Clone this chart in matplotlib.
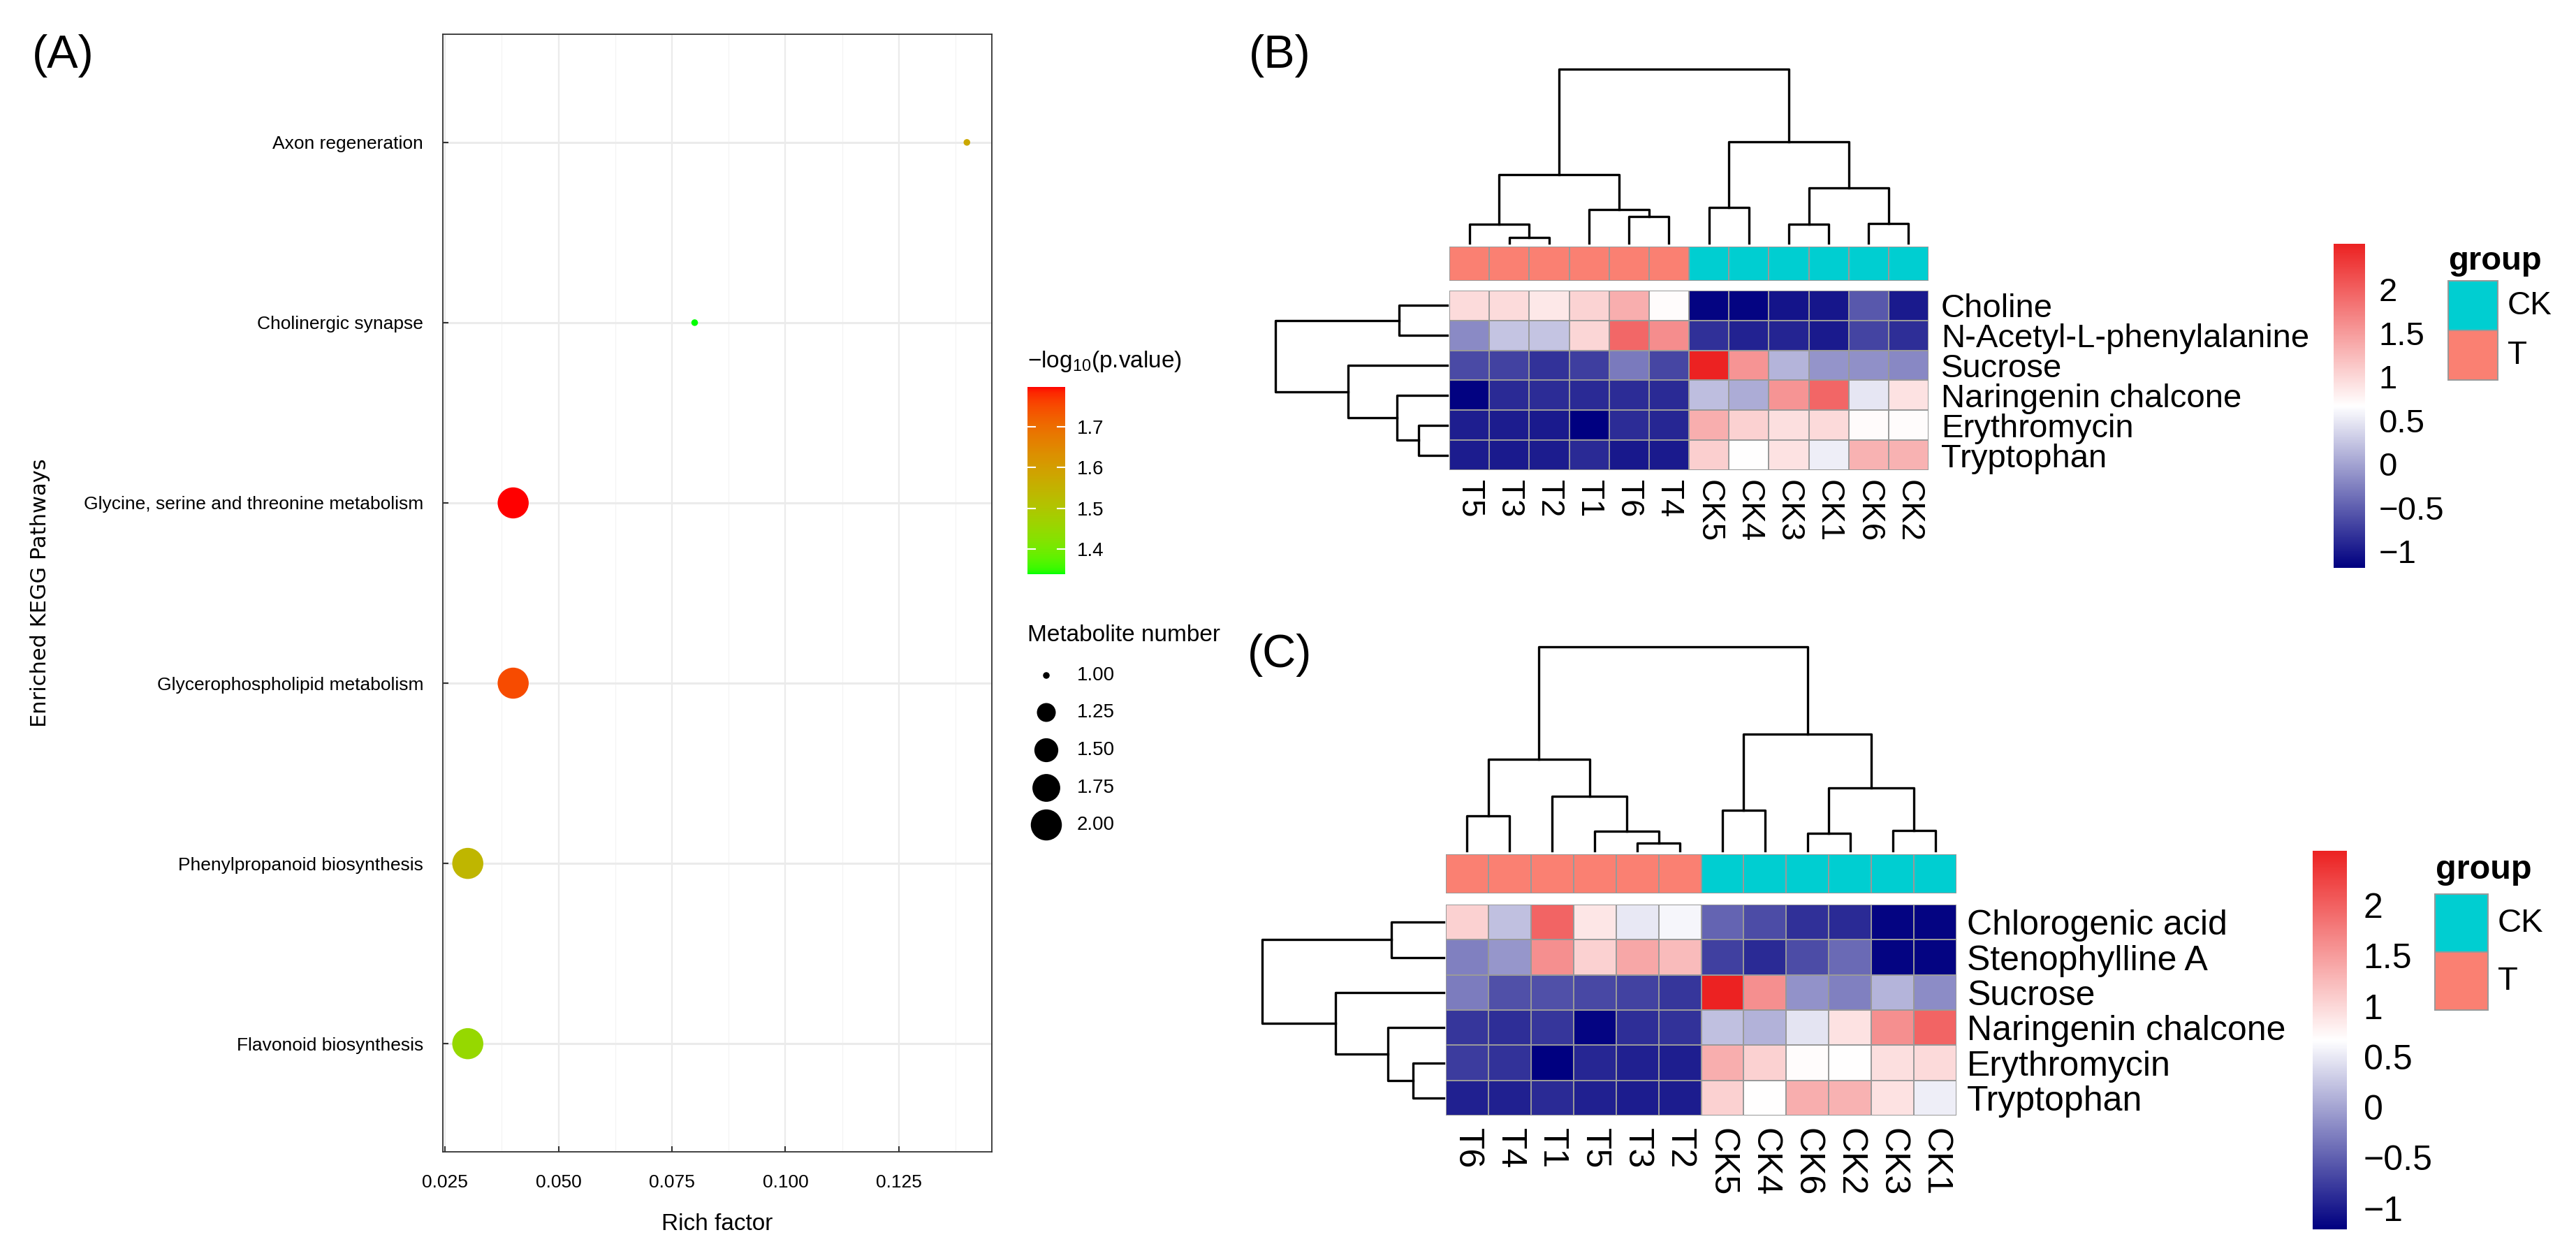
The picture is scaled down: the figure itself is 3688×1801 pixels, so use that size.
import numpy as np
import matplotlib
matplotlib.use('Agg')
import matplotlib.pyplot as plt
from matplotlib.colors import LinearSegmentedColormap, ListedColormap
from matplotlib.patches import Rectangle

plt.rcParams['font.family'] = ['Liberation Sans', 'DejaVu Sans']
plt.rcParams['mathtext.default'] = 'regular'

# ---------------- Panel A data ----------------
pathways = ['Flavonoid biosynthesis', 'Phenylpropanoid biosynthesis',
            'Glycerophospholipid metabolism', 'Glycine, serine and threonine metabolism',
            'Cholinergic synapse', 'Axon regeneration']
rich_factor = [0.03, 0.03, 0.04, 0.04, 0.08, 0.14]
neg_log10_p = [1.45, 1.54, 1.75, 1.798, 1.338, 1.575]
metab_number = [2, 2, 2, 2, 1, 1]
x_ticks_A = [0.025, 0.050, 0.075, 0.100, 0.125]
cbar_ticks_A = [1.4, 1.5, 1.6, 1.7]
size_legend_vals = [1.00, 1.25, 1.50, 1.75, 2.00]

# ---------------- Panel B data ----------------
cols_B = ['T5', 'T3', 'T2', 'T1', 'T6', 'T4', 'CK5', 'CK4', 'CK3', 'CK1', 'CK6', 'CK2']
rows_B = ['Choline', 'N-Acetyl-L-phenylalanine', 'Sucrose', 'Naringenin chalcone',
          'Erythromycin', 'Tryptophan']
vals_B = [
    [0.96, 0.96, 0.86, 1.03, 1.34, 0.68, -1.15, -1.15, -1.04, -1.02, -0.54, -1.00],
    [-0.19, 0.24, 0.24, 1.00, 1.94, 1.61, -0.84, -0.94, -0.92, -1.00, -0.69, -0.85],
    [-0.65, -0.70, -0.82, -0.73, -0.30, -0.67, 2.52, 1.55, 0.12, -0.11, -0.14, -0.20],
    [-1.17, -0.88, -0.87, -0.88, -0.87, -0.88, 0.20, 0.06, 1.55, 1.95, 0.48, 0.90],
    [-0.97, -0.98, -1.00, -1.19, -0.87, -0.91, 1.34, 1.05, 0.93, 0.98, 0.70, 0.68],
    [-0.98, -1.00, -0.98, -0.88, -1.01, -1.00, 1.06, 0.67, 0.90, 0.54, 1.31, 1.31],
]
# linkage: (left node, right node, height); leaves 0..n-1 in display order
col_link_B = [(1, 2, 0.031), (0, 12, 0.107), (4, 5, 0.154), (3, 14, 0.194), (13, 15, 0.394),
              (6, 7, 0.205), (8, 9, 0.107), (10, 11, 0.114), (18, 19, 0.317), (17, 20, 0.582),
              (16, 21, 1.0)]
row_link_B = [(0, 1, 0.28), (4, 5, 0.166), (3, 7, 0.291), (2, 8, 0.577), (6, 9, 1.0)]

# ---------------- Panel C data ----------------
cols_C = ['T6', 'T4', 'T1', 'T5', 'T3', 'T2', 'CK5', 'CK4', 'CK6', 'CK2', 'CK3', 'CK1']
rows_C = ['Chlorogenic acid', 'Stenophylline A', 'Sucrose', 'Naringenin chalcone',
          'Erythromycin', 'Tryptophan']
vals_C = [
    [1.06, 0.20, 1.98, 0.88, 0.50, 0.60, -0.47, -0.65, -0.85, -0.90, -1.17, -1.18],
    [-0.26, -0.11, 1.61, 1.06, 1.41, 1.24, -0.74, -0.89, -0.64, -0.43, -1.17, -1.17],
    [-0.30, -0.62, -0.62, -0.67, -0.72, -0.80, 2.54, 1.61, -0.14, -0.26, 0.12, -0.17],
    [-0.80, -0.86, -0.80, -1.17, -0.86, -0.83, 0.20, 0.10, 0.46, 0.90, 1.61, 1.98],
    [-0.76, -0.83, -1.21, -0.92, -0.97, -0.98, 1.34, 1.06, 0.69, 0.67, 0.93, 0.98],
    [-0.97, -0.97, -0.90, -0.97, -1.00, -1.00, 1.06, 0.67, 1.34, 1.31, 0.90, 0.54],
]
col_link_C = [(0, 1, 0.172), (4, 5, 0.037), (3, 13, 0.095), (2, 14, 0.266), (12, 15, 0.447),
              (6, 7, 0.197), (8, 9, 0.086), (10, 11, 0.100), (18, 19, 0.307), (17, 20, 0.573),
              (16, 21, 1.0)]
row_link_C = [(0, 1, 0.287), (4, 5, 0.169), (3, 7, 0.308), (2, 8, 0.595), (6, 9, 1.0)]

group_names = ['CK', 'T']
group_colors = {'CK': '#00CED1', 'T': '#FA8072'}
hm_ticks = [-1, -0.5, 0, 0.5, 1, 1.5, 2]
hm_ticklabels = ['\u22121', '\u22120.5', '0', '0.5', '1', '1.5', '2']

# ---------------- figure setup ----------------
W, H = 3688, 1801
fig = plt.figure(figsize=(W / 100, H / 100), dpi=100)


def px_axes(x0, y0, x1, y1, **kw):
    return fig.add_axes([x0 / W, 1 - y1 / H, (x1 - x0) / W, (y1 - y0) / H], **kw)


ov = fig.add_axes([0, 0, 1, 1], zorder=-5)
ov.set_xlim(0, W)
ov.set_ylim(H, 0)
ov.axis('off')


# green -> red gradient interpolated in Lab (ggplot style)
def srgb_to_lab(rgb):
    c = np.array(rgb, dtype=float)
    c = np.where(c <= 0.04045, c / 12.92, ((c + 0.055) / 1.055) ** 2.4)
    M = np.array([[0.4124, 0.3576, 0.1805], [0.2126, 0.7152, 0.0722], [0.0193, 0.1192, 0.9505]])
    xyz = M @ c / np.array([0.95047, 1.0, 1.08883])
    f = np.where(xyz > 0.008856, np.cbrt(xyz), 7.787 * xyz + 16 / 116)
    return np.array([116 * f[1] - 16, 500 * (f[0] - f[1]), 200 * (f[1] - f[2])])


def lab_to_srgb(lab):
    L, a, b = lab
    fy = (L + 16) / 116
    fx = fy + a / 500
    fz = fy - b / 200
    f = np.array([fx, fy, fz])
    xyz = np.where(f ** 3 > 0.008856, f ** 3, (f - 16 / 116) / 7.787) * np.array([0.95047, 1.0, 1.08883])
    Minv = np.array([[3.2406, -1.5372, -0.4986], [-0.9689, 1.8758, 0.0415], [0.0557, -0.2040, 1.0570]])
    c = Minv @ xyz
    c = np.where(c <= 0.0031308, 12.92 * c, 1.055 * np.clip(c, 0, None) ** (1 / 2.4) - 0.055)
    return np.clip(c, 0, 1)


lab_lo = srgb_to_lab([0, 1, 0])
lab_hi = srgb_to_lab([1, 0, 0])
cmapA = ListedColormap([lab_to_srgb(lab_lo + (lab_hi - lab_lo) * t) for t in np.linspace(0, 1, 256)])


def gg_size_px(n, nmin, nmax):
    t = (np.asarray(n, dtype=float) - nmin) / (nmax - nmin)
    return 7.0 * (1 + 5 * np.sqrt(t)) + 2.5


# ---------------- Panel A ----------------
axA = px_axes(634, 49, 1420, 1649)
ypos = np.arange(1, len(pathways) + 1)
xr = max(rich_factor) - min(rich_factor)
axA.set_xlim(min(rich_factor) - 0.05 * xr, max(rich_factor) + 0.05 * xr)
axA.set_ylim(0.4, len(pathways) + 0.6)
for xt in x_ticks_A:
    axA.axvline(xt, color='#EBEBEB', lw=1.6, zorder=0)
for xt in np.array(x_ticks_A) + 0.0125:
    axA.axvline(xt, color='#F4F4F4', lw=0.9, zorder=0)
for yt in ypos:
    axA.axhline(yt, color='#EBEBEB', lw=2.2, zorder=0)
vmin_A, vmax_A = min(neg_log10_p), max(neg_log10_p)
d_px = gg_size_px(metab_number, min(size_legend_vals), max(size_legend_vals))
scA = axA.scatter(rich_factor, ypos, s=(d_px * 0.72) ** 2, c=neg_log10_p, cmap=cmapA,
                  vmin=vmin_A, vmax=vmax_A, edgecolors='none', zorder=3)
axA.set_xticks(x_ticks_A)
axA.set_xticklabels(['%.3f' % v for v in x_ticks_A], fontsize=19)
axA.set_yticks(ypos)
axA.set_yticklabels(pathways, fontsize=19)
axA.tick_params(axis='x', direction='in', length=6, width=1.5, pad=23, color='#333333')
axA.tick_params(axis='y', direction='in', length=6, width=1.5, pad=20, color='#333333')
for sp in axA.spines.values():
    sp.set_color('#333333')
    sp.set_linewidth(1.3)
ov.text(1027, 1752, 'Rich factor', fontsize=24, ha='center', va='center')
ov.text(57, 849, 'Enriched KEGG Pathways', fontsize=22, ha='center', va='center',
        rotation=90, family='DejaVu Sans')
ov.text(90, 80, '(A)', fontsize=48, ha='center', va='center')

# colour bar A
caxA = px_axes(1471, 554, 1525, 822)
cbA = fig.colorbar(scA, cax=caxA, ticks=cbar_ticks_A)
cbA.outline.set_visible(False)
caxA.tick_params(length=0, labelsize=20, pad=12)
for t in cbar_ticks_A:
    caxA.axhline(t, xmin=0, xmax=0.2, color='white', lw=1.5)
    caxA.axhline(t, xmin=0.8, xmax=1, color='white', lw=1.5)
ov.text(1471, 517, '$-$log$_{10}$(p.value)', fontsize=24, ha='left', va='center')

# size legend A
ov.text(1471, 909, 'Metabolite number', fontsize=24, ha='left', va='center')
leg_y = [967, 1020, 1074, 1128, 1181]
leg_d = gg_size_px(size_legend_vals, min(size_legend_vals), max(size_legend_vals))
ov.scatter([1498] * len(size_legend_vals), leg_y, s=(leg_d * 0.72) ** 2, color='black',
           edgecolors='none')
for v, yy in zip(size_legend_vals, leg_y):
    ov.text(1542, yy, '%.2f' % v, fontsize=20, ha='left', va='center')


# ---------------- heatmap helpers ----------------
def draw_dendro(ax, links, n, orient, lw=2.4):
    pos = list(np.arange(n) + 0.5)
    hts = [0.0] * n
    for a, b, h in links:
        pa, pb, ha, hb = pos[a], pos[b], hts[a], hts[b]
        if orient == 'top':
            ax.plot([pa, pa, pb, pb], [ha, h, h, hb], color='black', lw=lw, clip_on=False)
        else:
            ax.plot([ha, h, h, hb], [pa, pa, pb, pb], color='black', lw=lw, clip_on=False)
        pos.append((pa + pb) / 2)
        hts.append(h)
    ax.axis('off')


hm_cmap = LinearSegmentedColormap.from_list('nwr', ['#000080', '#FFFFFF', '#EC2222'], N=256)
grp_cmap = ListedColormap([group_colors[g] for g in group_names])


def heatmap_panel(box, vals, rows, cols, col_link, row_link, dend_top, row_dend_left,
                  ann_box, cbar_box, leg, fs_row, fs_col, fs_cb, pads):
    hx0, hy0, hx1, hy1 = box
    data = np.array(vals)
    nr, nc = data.shape
    ax = px_axes(hx0, hy0, hx1, hy1)
    mesh = ax.pcolormesh(np.arange(nc + 1), np.arange(nr + 1), data, cmap=hm_cmap,
                         vmin=data.min(), vmax=data.max(), edgecolors='#999999', linewidth=1.4)
    ax.set_xlim(0, nc)
    ax.set_ylim(nr, 0)
    ax.set_xticks(np.arange(nc) + 0.5)
    ax.set_xticklabels(cols, rotation=270, fontsize=fs_col)
    ax.yaxis.tick_right()
    ax.set_yticks(np.arange(nr) + 0.5)
    ax.set_yticklabels(rows, fontsize=fs_row)
    ax.tick_params(axis='x', length=0, pad=pads[0])
    ax.tick_params(axis='y', length=0, pad=pads[1])
    for sp in ax.spines.values():
        sp.set_visible(False)
    # annotation bar
    axn = px_axes(hx0, ann_box[0], hx1, ann_box[1])
    codes = np.array([[group_names.index('CK' if c.startswith('CK') else 'T') for c in cols]])
    axn.pcolormesh(np.arange(nc + 1), [0, 1], codes, cmap=grp_cmap, vmin=-0.5, vmax=1.5,
                   edgecolors='#999999', linewidth=1.4)
    axn.set_xlim(0, nc)
    axn.axis('off')
    # column dendrogram
    axd = px_axes(hx0, dend_top, hx1, ann_box[0] - 5)
    axd.set_xlim(0, nc)
    axd.set_ylim(0, 1)
    draw_dendro(axd, col_link, nc, 'top')
    # row dendrogram
    axr = px_axes(row_dend_left, hy0, hx0 - 3, hy1)
    axr.set_xlim(1, 0)
    axr.set_ylim(nr, 0)
    draw_dendro(axr, row_link, nr, 'left')
    # colour bar
    cax = px_axes(*cbar_box)
    cb = fig.colorbar(mesh, cax=cax, ticks=hm_ticks)
    cb.set_ticklabels(hm_ticklabels)
    cb.outline.set_visible(False)
    cax.tick_params(length=0, labelsize=fs_cb, pad=pads[2])
    # group legend
    tx, ty, bx, by0, bw, bh, fs_leg = leg
    ov.text(tx, ty, 'group', fontsize=fs_leg, fontweight='bold', ha='left', va='center')
    for i, g in enumerate(group_names):
        ov.add_patch(Rectangle((bx, by0 + i * bh), bw, bh, facecolor=group_colors[g],
                               edgecolor='#999999', lw=1.4))
        ov.text(bx + bw + 14, by0 + (i + 0.5) * bh, g, fontsize=fs_leg - 1, ha='left', va='center')


# ---------------- Panel B ----------------
heatmap_panel((2075, 416, 2761, 673), vals_B, rows_B, cols_B, col_link_B, row_link_B,
              99, 1826, (353, 402), (3341, 349, 3386, 813),
              (3505, 374, 3505, 402, 71, 71, 34), 34, 33, 34, (10, 13, 14))
ov.text(1832, 80, '(B)', fontsize=48, ha='center', va='center')

# ---------------- Panel C ----------------
heatmap_panel((2070, 1295, 2801, 1597), vals_C, rows_C, cols_C, col_link_C, row_link_C,
              926, 1807, (1223, 1279), (3311, 1218, 3360, 1760),
              (3487, 1245, 3486, 1280, 76, 83, 35), 36, 36, 36, (13, 11, 17))
ov.text(1832, 938, '(C)', fontsize=48, ha='center', va='center')

fig.savefig('out.png', dpi=100)
